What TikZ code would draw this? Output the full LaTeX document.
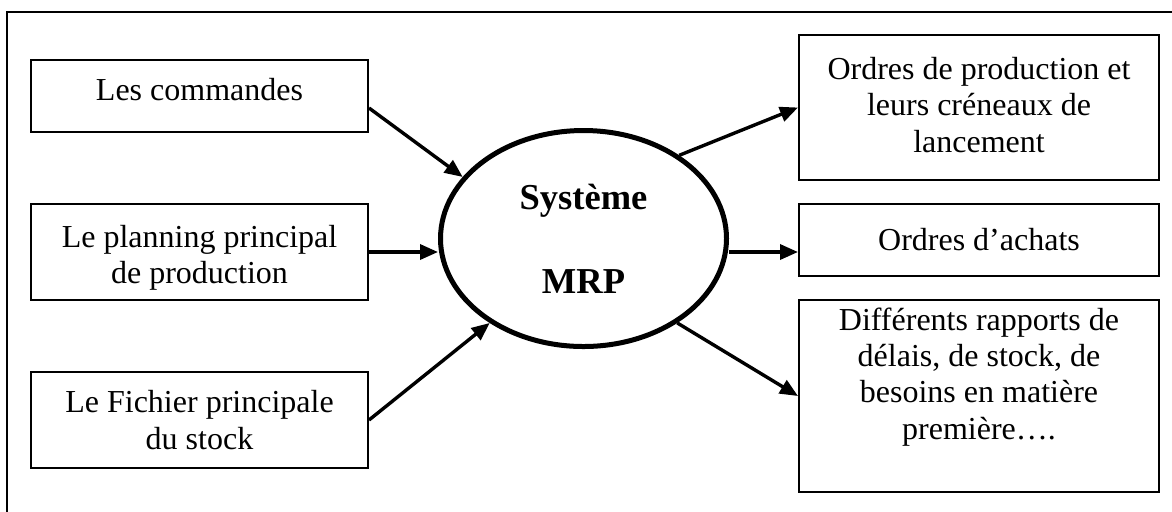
\documentclass[tikz,border=0pt]{standalone}
\usepackage{fontspec}
\setmainfont{Liberation Serif}
\usetikzlibrary{shapes.geometric,arrows.meta,calc}
\begin{document}
\begin{tikzpicture}[x=0.5pt,y=-0.5pt,
  box/.style={draw,line width=1pt,align=center,inner sep=0pt,
    font=\fontsize{16pt}{18.2pt}\selectfont},
  leftbox/.style={box,minimum width=168.5pt},
  rightbox/.style={box,minimum width=180pt},
  sysnode/.style={draw,ellipse,line width=2.5pt,minimum width=143pt,
    minimum height=108pt,inner sep=0pt,align=center,
    font=\fontsize{18.25pt}{20pt}\selectfont\bfseries},
  link/.style={line width=1.7pt,-{Triangle[length=9pt,width=7.5pt]}},
  framestyle/.style={line width=1pt}]
\useasboundingbox (0,0) rectangle (1172,511);
\begin{scope}
\clip (0,0) rectangle (1172,511);
\draw[framestyle] (1185,12) -- (7,12) -- (7,525);
\end{scope}
% inputs
\node[leftbox,minimum height=36pt,text depth=7pt] (b1) at (199.5,96) {Les commandes};
\node[leftbox,minimum height=48pt,text height=35pt,text depth=3.5pt] (b2) at (199.5,252) {Le planning principal\\de production};
\node[leftbox,minimum height=48pt] (b3) at (199.5,420) {Le Fichier principale\\du stock};
% system
\node[sysnode] (sys) at (583.5,238.5) {Système\\[22pt]MRP};
% outputs
\node[rightbox,minimum height=72.5pt,text depth=3pt] (bA) at (979,107.5) {Ordres de production et\\leurs créneaux de\\lancement};
\node[rightbox,minimum height=36pt] (bB) at (979,240) {Ordres d’achats};
\node[rightbox,minimum height=96pt,text depth=22.5pt] (bC) at (979,396) {Différents rapports de\\délais, de stock, de\\besoins en matière\\première….};
% connectors
\coordinate (b1out) at ([yshift=-6pt]b1.east);
\coordinate (bBin) at ([yshift=-6pt]bB.west);
\draw[link] (b1out) -- (sys.153);
\draw[link] (b2.east) -- (b2.east -| sys.west);
\draw[link] (b3.east) -- (sys.222);
\draw[link] (sys.41) -- (bA.west);
\draw[link] (sys.east |- bBin) -- (bBin);
\draw[link] (sys.-42) -- (bC.west);
\end{tikzpicture}
\end{document}
